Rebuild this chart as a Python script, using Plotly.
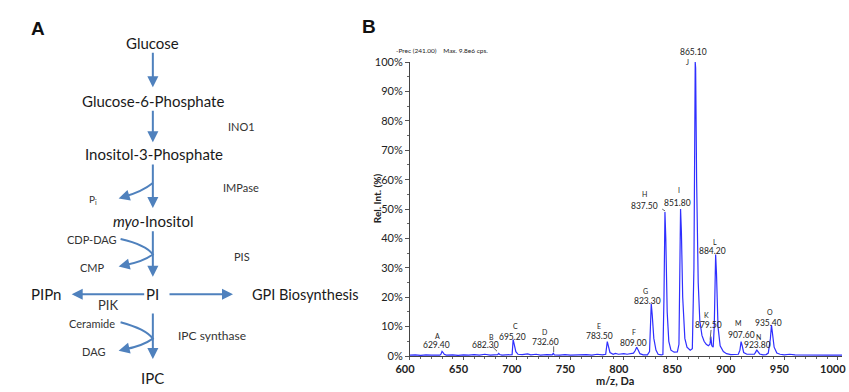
import plotly.graph_objects as go

# ---------------- data (panel B spectrum) ----------------
mz = [600, 605, 610, 615, 620, 625, 628, 629, 630, 631, 632, 634, 640, 645, 650, 655, 660, 665,
      670, 675, 680, 682, 683, 684, 686, 690, 694, 695.5, 696.5, 697.5, 699, 701, 705, 710, 713,
      718, 722, 728, 733, 734, 735, 740, 745, 750, 755, 760, 765, 770, 775, 780, 783, 784.5, 785.5,
      787, 790, 792, 795, 800, 803, 806, 809, 810.5, 812, 813.5, 815, 818, 822, 824, 825.6, 826.5,
      828, 830, 832, 835, 836.5, 837.5, 838.4, 839.2, 840.5, 842, 844, 847, 850, 851.5, 852.3, 853,
      853.8, 855, 857, 859, 862, 864, 865.5, 866.4, 866.7, 867.1, 868, 869.5, 871, 873, 875, 877,
      879, 880.5, 881.3, 882.2, 883.5, 884.5, 885.8, 886.6, 888, 890, 893, 896, 900, 904, 907,
      908.5, 909.6, 910.6, 912, 915, 920, 922, 923.5, 924.2, 925.2, 927, 930, 933, 935, 937, 938,
      939, 940.5, 943, 946, 950, 955, 960, 970, 980, 990, 1000, 1004]
rel_int = [0.3, 0.4, 0.2, 0.4, 0.3, 0.4, 0.3, 0.6, 1.6, 1.2, 0.6, 0.3, 0.4, 0.2, 0.4, 0.3, 0.5, 0.3,
           0.6, 0.3, 0.4, 0.5, 0.9, 0.5, 0.3, 0.4, 0.3, 0.5, 5.6, 4.0, 1.5, 0.6, 0.5, 0.7, 0.4,
           0.6, 0.3, 0.5, 0.4, 0.9, 0.4, 0.3, 0.5, 0.3, 0.4, 0.3, 0.5, 0.3, 0.6, 0.4, 0.6, 4.9, 3.5,
           1.2, 0.6, 0.9, 0.6, 0.8, 0.6, 0.9, 1.0, 1.8, 3.0, 2.0, 0.8, 0.4, 0.4, 1.5, 17.8, 14.0,
           6.0, 2.0, 0.6, 0.4, 0.5, 20.0, 49.0, 40.0, 15.0, 5.0, 2.0, 1.3, 1.4, 4.0, 25.0, 50.0,
           42.0, 20.0, 6.0, 3.0, 2.0, 2.5, 30.0, 97.0, 100.0, 98.0, 60.0, 25.0, 12.0, 7.0, 5.0, 4.0,
           3.5, 4.0, 6.6, 3.5, 3.0, 10.0, 34.5, 28.0, 10.0, 3.5, 1.5, 0.8, 0.5, 0.5, 0.6,
           2.0, 4.9, 3.5, 1.2, 0.6, 0.5, 0.6, 1.5, 2.1, 1.6, 0.7, 0.4, 0.5, 1.0, 6.0, 10.5,
           8.0, 3.0, 1.0, 0.6, 0.4, 0.6, 0.4, 0.3, 0.4, 0.3, 0.3, 0.3]

peak_letters = ["A", "B", "C", "D", "E", "F", "G", "H", "I", "J", "K", "L", "M", "N", "O"]
peak_values = ["629.40", "682.30", "695.20", "732.60", "783.50", "809.00", "823.30", "837.50",
               "851.80", "865.10", "879.50", "884.20", "907.60", "923.80", "935.40"]
peak_mz = [630, 683, 696.5, 734, 784.5, 812, 825.6, 838.4, 853, 866.7, 881.3, 885.8, 909.6, 924.2, 938]
peak_int = [1.6, 0.9, 5.6, 0.9, 4.9, 3.0, 17.8, 49.0, 50.0, 100.0, 6.6, 34.5, 4.9, 2.1, 10.5]

x_ticks = [600, 650, 700, 750, 800, 850, 900, 950, 1000]
y_ticks = [0, 10, 20, 30, 40, 50, 60, 70, 80, 90, 100]
y_ticktext = [f"{v}%" for v in y_ticks]

# label offsets in screen pixels (letter dx, dy, value dx, dy), dy downward
label_off = [(-5, -15, -6, -6), (-7, -16, -13, -8), (2, -14, -1, -3), (-9, -21, -8, -11),
             (-8, -16, -8, -6), (-3, -15, -3, -4), (-6, -13, -4, -3), (-20, -18, -20, -6),
             (-2, -19, -3, -6), (-8, 0, -2, -10), (-4, -22, -2, -12), (-1, -13, -3, -4),
             (-3, -19, 0, -7), (2, -13, 1, -5), (-1, -13, -3, -2)]

W, H = 849, 392


def px(x):
    return x / W


def py(y):
    return 1 - y / H


fig = go.Figure()
fig.add_trace(go.Scatter(x=mz, y=rel_int, mode="lines",
                         line=dict(color="#2f2fff", width=1.2), hoverinfo="skip",
                         showlegend=False))

ann = []
shapes = []
FONT = "Lato"
BLUE = "#4f81bd"


def text(x, y, t, size=15, color="#1a1a1a", weight="normal", family=FONT, xanchor="center"):
    ann.append(dict(x=px(x), y=py(y), xref="paper", yref="paper", text=t, showarrow=False,
                    xanchor=xanchor, yanchor="middle",
                    font=dict(family=family, size=size, color=color, weight=weight)))


def arrow(x0, y0, x1, y1):
    # straight arrow from (x0,y0) to tip (x1,y1), in screen pixels
    ann.append(dict(x=px(x1), y=py(y1), xref="paper", yref="paper", axref="pixel", ayref="pixel",
                    ax=x0 - x1, ay=y0 - y1, text="", showarrow=True, arrowhead=2,
                    arrowsize=1.1, arrowwidth=2, arrowcolor=BLUE, standoff=0))


def curve(pts):
    (x0, y0), (cx1, cy1), (x1, y1) = pts[:3]
    d = f"M {px(x0)},{py(y0)} Q {px(cx1)},{py(cy1)} {px(x1)},{py(y1)}"
    if len(pts) > 3:
        (cx2, cy2), (x2, y2) = pts[3:5]
        d += f" Q {px(cx2)},{py(cy2)} {px(x2)},{py(y2)}"
    shapes.append(dict(type="path", path=d, xref="paper", yref="paper",
                       line=dict(color=BLUE, width=2)))


# ---------------- panel A (pathway diagram) ----------------
text(24, 22, "A", size=19, color="#111", weight="bold", family="Liberation Sans")
text(141, 37, "Glucose")
arrow(141, 47, 141, 83)
text(141, 97, "Glucose-6-Phosphate")
arrow(141, 107, 141, 140)
text(142, 152, "Inositol-3-Phosphate")
text(232, 124, "INO1", size=11, color="#333")
arrow(141, 163, 141, 208)
curve([(141, 182), (130, 191), (112, 196)])
arrow(114, 195.5, 106, 198)
text(80, 199, "P<sub>i</sub>", size=10, color="#333")
text(231, 187, "IMPase", size=11, color="#333")
text(141, 221, "<i>myo</i>-Inositol")
arrow(141, 232, 141, 279)
curve([(108, 240), (134, 246), (141, 256), (130, 264), (112, 267)])
arrow(114, 266.6, 106, 268.5)
text(79, 240, "CDP-DAG", size=11, color="#333")
text(79, 269, "CMP", size=11, color="#333")
text(232, 258, "PIS", size=11, color="#333")
text(141, 297, "PI")
arrow(132, 297, 58, 297)
text(32, 297, "PIPn")
text(95, 308, "PIK", size=13, color="#333")
arrow(158, 297, 223, 297)
text(297, 297, "GPI Biosynthesis", size=14.5)
arrow(141, 317, 141, 364)
curve([(108, 326), (134, 333), (141, 343), (130, 351), (112, 354)])
arrow(114, 353.6, 106, 355.5)
text(79, 327, "Ceramide", size=11, color="#333")
text(80, 356, "DAG", size=11, color="#333")
text(201, 340, "IPC synthase", size=12, color="#333")
text(141, 384, "IPC")

# ---------------- panel B labels ----------------
text(362, 20, "B", size=19, color="#111", weight="bold", family="Liberation Sans")
text(388, 45, "-Prec (241.00)&nbsp;&nbsp;&nbsp;&nbsp;Max. 9.8e6 cps.", size=6.5, color="#222",
     xanchor="left")
text(614, 386.5, "m/z, Da", size=11, color="#222", weight="bold")
ann.append(dict(x=px(371), y=py(198), xref="paper", yref="paper", text="Rel. Int. (%)",
                showarrow=False, textangle=-90,
                font=dict(family=FONT, size=10, color="#222", weight="bold")))

for L, V, xm, yi, (ldx, ldy, vdx, vdy) in zip(peak_letters, peak_values, peak_mz, peak_int, label_off):
    ann.append(dict(x=xm, y=yi, xref="x", yref="y", text=L, showarrow=False,
                    xshift=ldx, yshift=-ldy, font=dict(family=FONT, size=7, color="#222")))
    ann.append(dict(x=xm, y=yi, xref="x", yref="y", text=V, showarrow=False,
                    xshift=vdx, yshift=-vdy, font=dict(family=FONT, size=8.5, color="#222")))

# small leader lines
for (x0, y0, x1, y1) in [(489, 352, 493, 356), (551, 351, 551, 357), (662, 209, 665, 211),
                          (712, 334, 711, 344)]:
    shapes.append(dict(type="line", xref="paper", yref="paper", x0=px(x0), y0=py(y0),
                       x1=px(x1), y1=py(y1), line=dict(color="#666", width=1)))

fig.update_layout(
    width=W, height=H, margin=dict(l=0, r=0, t=0, b=0),
    paper_bgcolor="white", plot_bgcolor="white",
    annotations=ann, shapes=shapes, showlegend=False,
    xaxis=dict(domain=[px(404), px(846)], range=[600, 1004], tickvals=x_ticks,
               ticktext=[str(v) for v in x_ticks],
               ticks="outside", ticklen=3, tickcolor="#555", showline=True, linecolor="#444",
               linewidth=1, showgrid=False, zeroline=False, ticklabelshift=-5,
               ticklabeloverflow="allow",
               minor=dict(dtick=10, ticks="outside", ticklen=2, tickcolor="#666"),
               tickfont=dict(family=FONT, size=11, color="#222", weight="bold")),
    yaxis=dict(domain=[py(361), py(57)], range=[0, 100], tickvals=y_ticks, ticktext=y_ticktext,
               ticks="outside", ticklen=4, tickcolor="#555", showline=True, linecolor="#444",
               linewidth=1, showgrid=False, zeroline=False,
               minor=dict(dtick=5, ticks="outside", ticklen=2, tickcolor="#666"),
               tickfont=dict(family=FONT, size=11, color="#222")),
)

fig.write_html("out.html", config={"displayModeBar": False})
